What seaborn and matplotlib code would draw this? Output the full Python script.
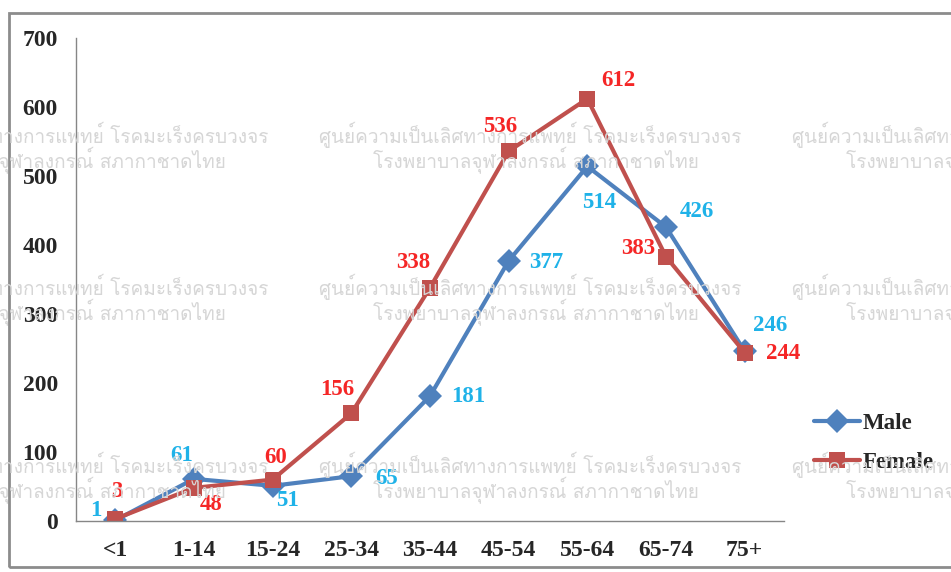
import pandas as pd
import matplotlib.pyplot as plt
import matplotlib.patches as mpatches
from matplotlib import font_manager
from matplotlib.ft2font import FT2Font
import seaborn as sns

# -----------------------
# DATOS
# -----------------------
age_groups = ["<1", "1-14", "15-24", "25-34", "35-44", "45-54", "55-64", "65-74", "75+"]
male = [1, 61, 51, 65, 181, 377, 514, 426, 246]
female = [3, 48, 60, 156, 338, 536, 612, 383, 244]

wm_line1 = "ศูนย์ความเป็นเลิศทางการแพทย์ โรคมะเร็งครบวงจร"
wm_line2 = "โรงพยาบาลจุฬาลงกรณ์ สภากาชาดไทย"

df = pd.DataFrame({
    "age": age_groups * 2,
    "count": male + female,
    "sex": ["Male"] * len(male) + ["Female"] * len(female),
})

# buscar una fuente instalada con glifos tailandeses
thai_family = None
for f in font_manager.fontManager.ttflist:
    try:
        cmap = FT2Font(f.fname).get_charmap()
    except Exception:
        continue
    if ord("ก") in cmap and ord("ศ") in cmap:
        thai_family = f.name
        break

# -----------------------
# ESTILO
# -----------------------
sns.set_style("white")
plt.rcParams["font.family"] = ["Liberation Serif", "DejaVu Serif"]
plt.rcParams["font.weight"] = "bold"

colors = {"Male": "#4F81BD", "Female": "#C0504D"}
label_colors = {"Male": "#1FB2E8", "Female": "#F52626"}

fig = plt.figure(figsize=(9.51, 5.72), dpi=100)
ax = fig.add_axes([76 / 951, 1 - 521 / 572, (784 - 76) / 951, (521 - 38) / 572])

# marco gris alrededor de la figura
fig.patches.append(mpatches.Rectangle((9 / 951, 1 - 567 / 572), 1.2, (567 - 13) / 572,
                                      transform=fig.transFigure, fill=False,
                                      edgecolor="#8C8C8C", linewidth=2, zorder=0))

# marca de agua (solo si hay fuente tailandesa)
if thai_family is not None:
    for ypix in [135, 287, 465]:
        for xc in [57, 530, 1003]:
            fig.text(xc / 951, 1 - ypix / 572, wm_line1, ha="center", va="center",
                     fontsize=13.7, color="#D6D6D6", family=[thai_family, "DejaVu Sans"],
                     fontweight="normal", zorder=0)
            fig.text((xc + 6) / 951, 1 - (ypix + 26) / 572, wm_line2, ha="center", va="center",
                     fontsize=13.7, color="#D6D6D6", family=[thai_family, "DejaVu Sans"],
                     fontweight="normal", zorder=0)

sns.lineplot(data=df, x="age", y="count", hue="sex", style="sex",
             hue_order=["Male", "Female"], style_order=["Male", "Female"],
             palette=colors, markers={"Male": "D", "Female": "s"}, dashes=False,
             linewidth=3, markersize=12, markeredgewidth=0, sort=False, ax=ax)

# -----------------------
# ETIQUETAS DE DATOS
# -----------------------
male_off = [(-20, 10), (-12, 23), (15, -15), (35, -2), (38, 0), (38, -2), (12, -36), (31, 16), (25, 26)]
female_off = [(1, 27), (17, -17), (3, 22), (-14, 24), (-17, 25), (-9, 25), (31, 18), (-28, 8), (38, -1)]

for i, (vm, vf) in enumerate(zip(male, female)):
    ax.annotate(str(vm), (i, vm), xytext=male_off[i], textcoords="offset pixels",
                ha="center", va="center", fontsize=16.5, fontweight="bold",
                color=label_colors["Male"])
    ax.annotate(str(vf), (i, vf), xytext=female_off[i], textcoords="offset pixels",
                ha="center", va="center", fontsize=16.5, fontweight="bold",
                color=label_colors["Female"])

# -----------------------
# EJES
# -----------------------
ax.set_xlim(-0.5, len(age_groups) - 0.5)
ax.set_ylim(0, 700)
ax.set_yticks(range(0, 701, 100))
ax.set_xticks(range(len(age_groups)))
ax.set_xticklabels(age_groups)
ax.set_xticks([i - 0.5 for i in range(len(age_groups) + 1)], minor=True)
ax.tick_params(axis="x", which="major", length=0, pad=14, labelsize=17)
ax.tick_params(axis="x", which="minor", length=6, width=1, color="#868686", direction="out")
ax.tick_params(axis="y", length=5, width=1, color="#868686", direction="out", pad=8, labelsize=17)
for lbl in ax.get_xticklabels() + ax.get_yticklabels():
    lbl.set_fontweight("bold")
ax.set_xlabel("")
ax.set_ylabel("")
for side in ["top", "right"]:
    ax.spines[side].set_visible(False)
for side in ["left", "bottom"]:
    ax.spines[side].set_color("#868686")
    ax.spines[side].set_linewidth(1)
ax.patch.set_alpha(0)

handles, labels = ax.get_legend_handles_labels()
ax.legend(handles, labels, frameon=False, loc="center left",
          bbox_to_anchor=(805 / 951, 1 - 443 / 572), bbox_transform=fig.transFigure,
          prop={"size": 16.5, "weight": "bold"}, handlelength=2.0, handletextpad=0.1,
          labelspacing=0.8, borderaxespad=0)

fig.savefig("out.png", dpi=100)
